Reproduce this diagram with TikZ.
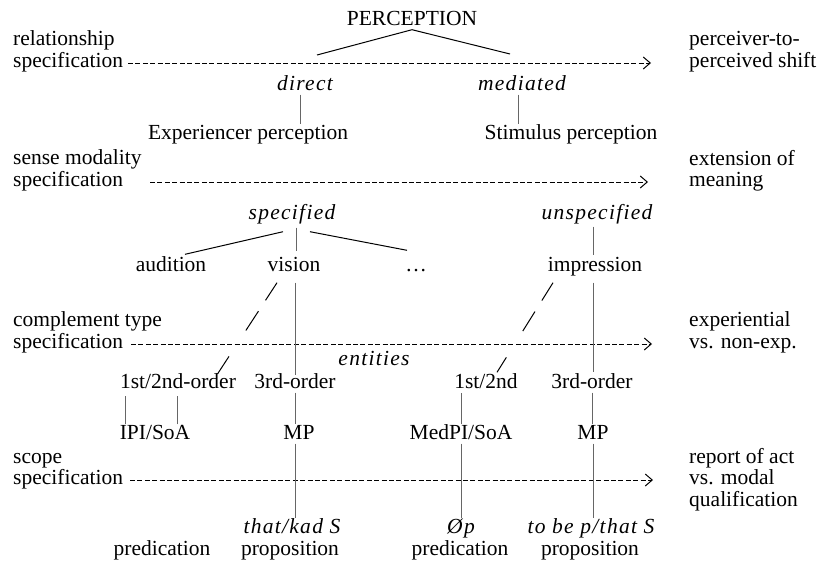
\documentclass[tikz,border=0pt]{standalone}
\usepackage{fontspec}
\setmainfont{Liberation Serif}
\usepackage{tikz}
\usetikzlibrary{calc,positioning,arrows.meta}

\begin{document}
\begin{tikzpicture}[x=1pt,y=-1pt,font=\labelsize]
  % Local definitions
  \def\labelsize{\fontsize{21.5}{21.5}\selectfont}

  % Colors
  \colorlet{stemcolor}{black!60}
  \colorlet{branchcolor}{black}

  % Styles
  \tikzstyle{level label}=[anchor=west,align=left,inner sep=0pt]
  \tikzstyle{item}=[inner sep=0pt,text height=14.5pt,text depth=4.5pt]
  \tikzstyle{feature}=[item,font={\labelsize\itshape\addfontfeature{LetterSpace=6}}]
  \tikzstyle{level line}=[line width=1pt,dash pattern=on 5pt off 2.4pt,
    -{Straight Barb[length=7pt,width=12pt,line width=1pt]}]
  \tikzstyle{branch}=[line width=1pt,branchcolor]
  \tikzstyle{stem}=[line width=0.6pt,stemcolor]
  \tikzstyle{broken}=[branch,dash pattern=on 21pt off 13pt on 23pt off 31pt on 21pt]

  % The graphic
  \useasboundingbox (0,0) rectangle (818,563);

  % levels and what they stand for
  \node[level label] (rel)   at (13,51.5)  {relationship\\specification};
  \node[level label] (sense) at (13,170.5) {sense modality\\specification};
  \node[level label] (compl) at (13,332.5) {complement type\\specification};
  \node[level label] (scope) at (13,471)   {scope\\specification};

  \node[level label] (shift) at (689,51.5)  {perceiver-to-\\perceived shift};
  \node[level label] (ext)   at (689,170.5) {extension of\\meaning};
  \node[level label] (nonexp) at (689,332.5) {experiential\\vs. non-exp.};
  \node[level label] (modal) at (689,479.5) {report of act\\vs. modal\\qualification};

  \coordinate (l1a) at (128,63);  \coordinate (l1b) at (651,63);
  \coordinate (l2a) at (150,182); \coordinate (l2b) at (648,182);
  \coordinate (l3a) at (131,344); \coordinate (l3b) at (652,344);
  \coordinate (l4a) at (130,480); \coordinate (l4b) at (653,480);
  \draw[level line] (l1a) -- (l1b);
  \draw[level line] (l2a) -- (l2b);
  \draw[level line] (l3a) -- (l3b);
  \draw[level line] (l4a) -- (l4b);

  % relationship
  \node[item] (perc) at (412,20) {PERCEPTION};
  \coordinate (tl) at (317,55);
  \coordinate (tr) at (510,54);
  \draw[branch] (tl) -- (perc.south) -- (tr);

  \node[feature] (dir) at (305,85) {direct};
  \node[feature] (med) at (522,85) {mediated};
  \node[item] (expc) at (248,134) {Experiencer perception};
  \node[item] (stim) at (571,134) {Stimulus perception};
  \draw[stem] ([xshift=-5pt]dir.south) -- ([xshift=-5pt]dir.south |- expc.north);
  \draw[stem] ([xshift=-4pt]med.south) -- ([xshift=-4pt]med.south |- stim.north);

  % sense modality
  \node[feature] (spec) at (292,214) {specified};
  \node[feature] (unsp) at (597,214) {unspecified};
  \node[item] (aud)  at (171,266) {audition};
  \node[item] (vis)  at (294,266) {vision};
  \node[item] (more) at (416,266) {…};
  \node[item] (imp)  at (595,266) {impression};
  \draw[branch] ($(spec.south)+(-9,8)$) -- ($(aud.north)+(14,-2)$);
  \draw[stem] ($(spec.south)+(4,4)$) -- ($(vis.north)+(2,-5)$);
  \draw[branch] ($(spec.south)+(18,8)$) -- ($(more.north)+(-9,-6)$);
  \draw[stem] ($(unsp.south)+(-4,3)$) -- ($(imp.north)+(-2,-1)$);

  % complement type
  \node[feature] (ent) at (374,360) {entities};
  \node[item] (ord12)   at (178,383) {1st/2nd-order};
  \node[item] (ord3)    at (295,383) {3rd-order};
  \node[item] (med12)   at (486,383) {1st/2nd};
  \node[item] (medord3) at (592,383) {3rd-order};
  \draw[broken] ($(vis.south)+(-17,7)$) -- ($(ord12.north)+(38,3)$);
  \draw[stem] ($(vis.south)+(1,7)$) -- ($(ord3.north)+(0,2)$);
  \draw[broken] ($(imp.south)+(-42,7)$) -- ($(med12.north)+(11,-1)$);
  \draw[stem] ($(imp.south)+(-2,7)$) -- ($(medord3.north)+(1,-1)$);

  % scope
  \node[item] (ipi)   at (155,434) {IPI/SoA};
  \node[item] (mp)    at (299,434) {MP};
  \node[item] (medpi) at (461,434) {MedPI/SoA};
  \node[item] (medmp) at (593,434) {MP};
  \draw[stem] ($(ipi.north west)+(6,0)$) -- +(0,-28);
  \draw[stem] ($(ipi.north west)+(58,0)$) -- +(0,-28);
  \draw[stem] (ord3.south) -- (ord3.south |- mp.north);
  \draw[stem] (medpi.north) -- (medpi.north |- med12.south);
  \draw[stem] (medord3.south) -- (medord3.south |- medmp.north);

  \node[feature] (thats) at (292,528) {that/kad S};
  \node[item] (prop)     at (290,550) {proposition};
  \node[item] (pred)     at (162,550) {predication};
  \node[feature] (nullp) at (461,528) {Øp};
  \node[item] (pred2)    at (460,550) {predication};
  \node[feature] (tobe)  at (591,528) {to be p/that S};
  \node[item] (prop2)    at (590,550) {proposition};
  \draw[stem] (ord3.south |- mp.south) -- (ord3.south |- thats.north);
  \draw[stem] (medpi.south) -- (medpi.south |- nullp.north);
  \draw[stem] (medmp.south) -- (medmp.south |- tobe.north);

\end{tikzpicture}
\end{document}
